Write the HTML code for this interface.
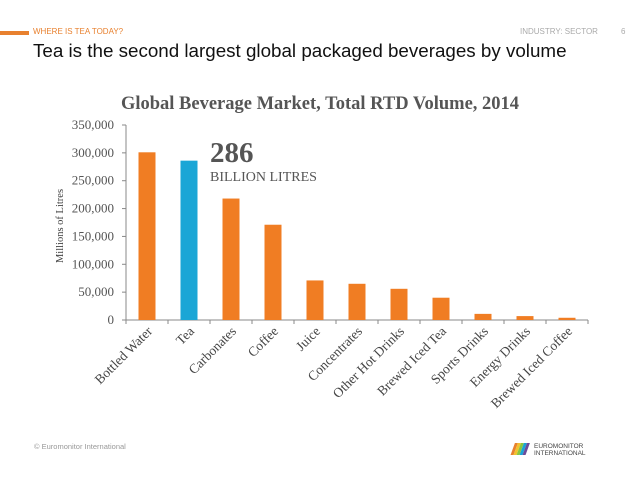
<!DOCTYPE html>
<html><head><meta charset="utf-8"><style>
body{margin:0;width:638px;height:479px;background:#fff;overflow:hidden;position:relative;font-family:"Liberation Sans",sans-serif}
.abs{position:absolute;white-space:nowrap}
</style></head><body>
<div class="abs" style="left:0;top:31px;width:29px;height:4px;background:#e8812f"></div>
<div class="abs" style="left:33px;top:27px;font-size:8px;color:#e8812f">WHERE IS TEA TODAY?</div>
<div class="abs" style="left:520px;top:27px;font-size:8px;color:#aaa">INDUSTRY: SECTOR</div>
<div class="abs" style="left:621px;top:27px;font-size:8px;color:#aaa">6</div>
<div class="abs" style="left:33px;top:40px;font-size:18.8px;color:#111">Tea is the second largest global packaged beverages by volume</div>
<div class="abs" style="left:34px;top:442px;font-size:7.5px;color:#999">© Euromonitor International</div>
<div class="abs" style="left:508px;top:440px;">
<svg width="90" height="16"><g transform="skewX(-20)"><rect x="8" y="3" width="3" height="12" fill="#e8812f"/><rect x="11" y="3" width="3" height="12" fill="#f2c12e"/><rect x="14" y="3" width="3" height="12" fill="#8cc63f"/><rect x="17" y="3" width="3" height="12" fill="#1aa3d6"/><rect x="20" y="3" width="3" height="12" fill="#6b4c9a"/></g>
<text x="26" y="8" font-size="6.5" fill="#444" font-family="Liberation Sans">EUROMONITOR</text><text x="26" y="15" font-size="6.5" fill="#444" font-family="Liberation Sans">INTERNATIONAL</text></svg></div>
<svg id="chart" width="638" height="479" style="position:absolute;left:0;top:0" font-family="Liberation Serif, serif"></svg>
<script>
const categories=["Bottled Water","Tea","Carbonates","Coffee","Juice","Concentrates","Other Hot Drinks","Brewed Iced Tea","Sports Drinks","Energy Drinks","Brewed Iced Coffee"];
const values=[301000,286000,218000,171000,71000,65000,56000,40000,11000,7000,4000];
const yTicks=[0,50000,100000,150000,200000,250000,300000,350000];
const tickLabels=["0","50,000","100,000","150,000","200,000","250,000","300,000","350,000"];
const highlight="Tea";
const NS="http://www.w3.org/2000/svg";
const svg=document.getElementById('chart');
const x0=126,x1=588,y0=320,yTop=125,yMax=350000;
const bw=(x1-x0)/categories.length;
const y=v=>y0-(v/yMax)*(y0-yTop);
const xc=i=>x0+bw*(i+0.5);
function mk(t,a){const e=document.createElementNS(NS,t);for(const k in a)e.setAttribute(k,a[k]);svg.appendChild(e);return e;}
const title=mk('text',{x:320,y:109,'text-anchor':'middle','font-size':18.5,'font-weight':'bold',fill:'#555'});
title.textContent="Global Beverage Market, Total RTD Volume, 2014";


const yl=mk('text',{transform:'translate(63,226) rotate(-90)','text-anchor':'middle','font-size':10.5,fill:'#444'});
yl.textContent="Millions of Litres";


const ya=mk('line',{x1:x0,y1:yTop,x2:x0,y2:y0,stroke:'#888','stroke-width':1});


yTicks.forEach((v,i)=>{
  mk('line',{x1:x0-4,x2:x0,y1:y(v),y2:y(v),stroke:'#888'});
  const t=mk('text',{x:x0-12,y:y(v)+4,'text-anchor':'end','font-size':13,fill:'#555'});
  t.textContent=tickLabels[i];
  
  
});
const xa=mk('line',{x1:x0,y1:y0,x2:x1,y2:y0,stroke:'#888'});


for(let i=0;i<=categories.length;i++)mk('line',{x1:x0+bw*i,x2:x0+bw*i,y1:y0,y2:y0+4,stroke:'#888'});
categories.forEach((c,i)=>{
  const r=mk('rect',{x:xc(i)-8.5,y:y(values[i]),width:17,height:y0-y(values[i]),fill:c===highlight?'#1aa6d6':'#f07d23'});
  
  
  const t=mk('text',{transform:`translate(${xc(i)+6},${y0+12}) rotate(-45)`,'text-anchor':'end','font-size':13.5,fill:'#444'});
  t.textContent=c;
  
  
});
const a1=mk('text',{x:210,y:162,'font-size':29,'font-weight':'bold',fill:'#555'});
a1.textContent="286";


const a2=mk('text',{x:210,y:181,'font-size':14,fill:'#555'});
a2.textContent="BILLION LITRES";


</script>
</body></html>
